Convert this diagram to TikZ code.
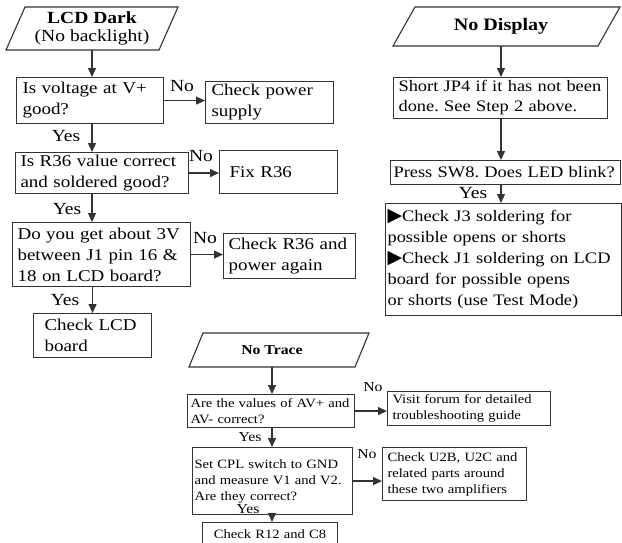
\documentclass[tikz,border=0pt]{standalone}
\usepackage{fontspec}
\setmainfont{Liberation Serif}[FakeStretch=1.15]
\newfontfamily\symfont{DejaVu Sans}
\usetikzlibrary{arrows.meta,calc,positioning}
\newcommand{\bultri}{{\symfont\fontsize{19}{16}\selectfont\char"25B6}}
\frenchspacing

\begin{document}
\begin{tikzpicture}[x=1pt,y=-1pt,
    box/.style={draw=black!80,line width=1.1pt,anchor=north west,align=left,inner ysep=0pt,
        font=\fontsize{16.5}{21}\selectfont},
    rbox/.style={box,font=\fontsize{16}{20}\selectfont},
    sbox/.style={box,font=\fontsize{12.7}{16}\selectfont},
    head/.style={align=center,inner sep=0pt},
    arr/.style={draw=black!80,line width=1.2pt,-{Triangle[length=9pt,width=8pt]}},
    lbl/.style={inner sep=0pt,font=\fontsize{17}{17}\selectfont},
    slbl/.style={inner sep=0pt,font=\fontsize{13.7}{13.7}\selectfont}]
    \useasboundingbox (0,0) rectangle (622,542);
    \fill[white] (0,0) rectangle (622,542);
    % LCD Dark
    \draw[draw=black!80,line width=1.1pt] (6,50)--(25,7)--(178,7)--(159,50)--cycle;
    \node[head,minimum height=43pt,font=\fontsize{17}{18}\selectfont] (lcd) at (92,28.5) {\textbf{LCD Dark}\\(No backlight)};
    \node[box,inner xsep=6pt,text width=135pt,minimum height=46pt] (q1) at (16,77) {Is voltage at V+\\good?};
    \node[box,inner xsep=6pt,text width=116pt,minimum height=42pt] (a1) at (205,81) {Check power\\supply};
    \node[box,inner xsep=5pt,text width=163pt,minimum height=41pt] (q2) at (15,152) {Is R36 value correct\\and soldered good?};
    \node[box,inner xsep=10pt,text width=98pt,minimum height=43pt] (a2) at (219,150) {Fix R36};
    \node[box,inner xsep=5pt,text width=168pt,minimum height=64pt] (q3) at (12,222) {Do you get about 3V\\between J1 pin 16 \&\\18 on LCD board?};
    \node[box,inner xsep=5pt,text width=122pt,minimum height=45pt] (a3) at (223,233) {Check R36 and\\power again};
    \node[box,inner xsep=11pt,text width=96pt,minimum height=44pt] (a4) at (33,313) {Check LCD\\board};
    \draw[arr] (lcd.south) -- (lcd.south |- q1.north);
    \draw[arr] (lcd.south |- q1.south) -- (lcd.south |- q2.north);
    \draw[arr] (lcd.south |- q2.south) -- (lcd.south |- q3.north);
    \draw[arr] (a4.north |- q3.south) -- (a4.north);
    \draw[arr] (q1.east) -- (q1.east -| a1.west);
    \draw[arr] (q2.east) -- (q2.east -| a2.west);
    \draw[arr] (q3.east) -- (q3.east -| a3.west);
    \node[lbl] (no1) at (182,86) {No};
    \node[lbl] (no2) at (201,156) {No};
    \node[lbl] (no3) at (205,238) {No};
    \node[lbl] (yes1) at (66,136) {Yes};
    \node[lbl] (yes2) at (67,209) {Yes};
    \node[lbl] (yes3) at (65,300) {Yes};
    % No Display
    \draw[draw=black!80,line width=1.1pt] (393,46)--(415,7)--(620,7)--(598,46)--cycle;
    \node[head,minimum height=39pt,font=\fontsize{17.5}{18}\selectfont\bfseries] (nd) at (501,26.5) {No Display};
    \node[rbox,inner xsep=5pt,text width=204pt,minimum height=41pt] (s1) at (393,77) {Short JP4 if it has not been\\done. See Step 2 above.};
    \node[rbox,inner xsep=3pt,text width=224pt,minimum height=24pt] (s2) at (390,160) {Press SW8. Does LED blink?};
    \node[rbox,inner xsep=2pt,text width=232pt,minimum height=112pt,font=\fontsize{16}{21}\selectfont] (s3) at (385,203)
        {\bultri Check J3 soldering for\\possible opens or shorts\\\bultri Check J1 soldering on LCD\\board for possible opens\\or shorts (use Test Mode)};
    \draw[arr] (nd.south) -- (nd.south |- s1.north);
    \draw[arr] (nd.south |- s1.south) -- (nd.south |- s2.north);
    \draw[arr] (nd.south |- s2.south) -- (nd.south |- s3.north);
    \node[lbl] (yes4) at (473,193) {Yes};
    % No Trace
    \draw[draw=black!80,line width=1.1pt] (189,367)--(203,333)--(369,333)--(355,367)--cycle;
    \node[head,minimum height=34pt,font=\fontsize{13.7}{14}\selectfont\bfseries] (nt) at (272,350) {No Trace};
    \node[sbox,inner xsep=3pt,text width=161pt,minimum height=33pt] (t1) at (187,394) {Are the values of AV+ and\\AV- correct?};
    \node[sbox,inner xsep=5pt,text width=153pt,minimum height=34pt] (f1) at (387,391) {Visit forum for detailed\\troubleshooting guide};
    \node[sbox,inner xsep=2pt,text width=156pt,minimum height=67pt] (t2) at (192,447) {Set CPL switch to GND\\and measure V1 and V2.\\Are they correct?};
    \node[sbox,inner xsep=5pt,text width=134pt,minimum height=53pt] (f2) at (382,447) {Check U2B, U2C and\\related parts around\\these two amplifiers};
    \node[sbox,align=center,inner xsep=5pt,text width=125pt,minimum height=24pt] (f3) at (202,522) {Check R12 and C8};
    \draw[arr] (nt.south) -- (nt.south |- t1.north);
    \draw[arr] (nt.south |- t1.south) -- (nt.south |- t2.north);
    \draw[arr] (nt.south |- t2.south) -- (nt.south |- f3.north);
    \draw[arr] (t1.east) -- (t1.east -| f1.west);
    \draw[arr] (t2.east) -- (t2.east -| f2.west);
    \node[slbl] (no4) at (373,387) {No};
    \node[slbl] (no5) at (367,454) {No};
    \node[slbl] (yes5) at (250,437) {Yes};
    \node[slbl] (yes6) at (248,509) {Yes};
\end{tikzpicture}
\end{document}
